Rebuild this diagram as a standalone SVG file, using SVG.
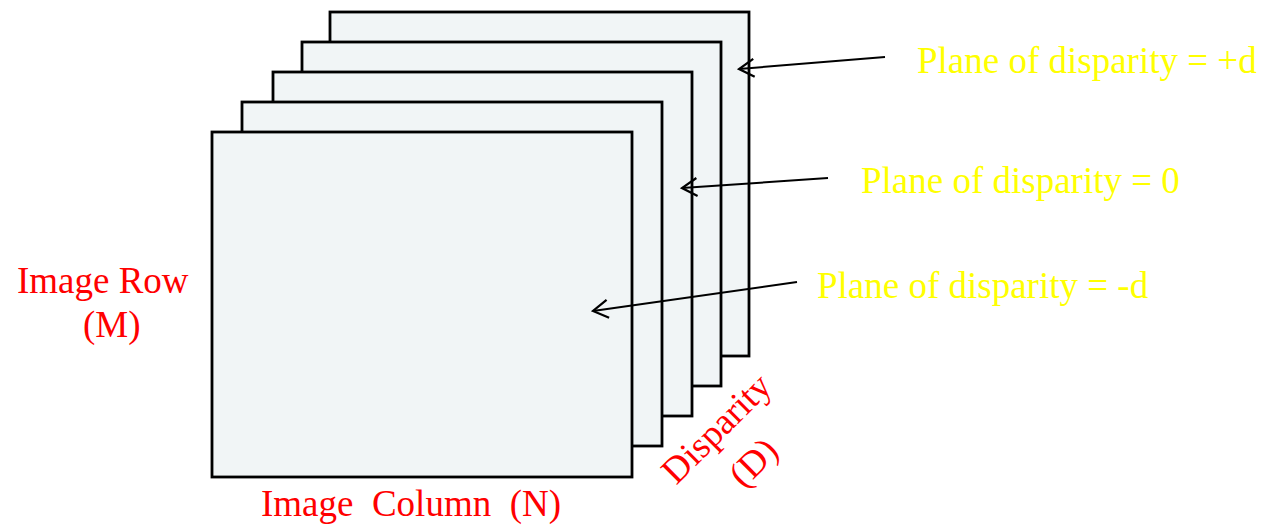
<svg xmlns="http://www.w3.org/2000/svg" width="1267" height="525" viewBox="0 0 1267 525">
  <style>
    .plane { fill: #f1f5f6; stroke: #000; stroke-width: 2.8; }
    .arrow { fill: none; stroke: #000; stroke-width: 2; marker-end: url(#chev); }
    .lbl-y { font-family: "Liberation Serif", "Times New Roman", serif; font-size: 37px; fill: #ffff00; }
    .lbl-r { font-family: "Liberation Serif", "Times New Roman", serif; font-size: 37px; fill: #ff0000; white-space: pre; }
  </style>
  <defs>
    <marker id="chev" markerUnits="userSpaceOnUse" markerWidth="40" markerHeight="40" refX="0" refY="0" viewBox="-20 -20 40 40" orient="auto" overflow="visible">
      <path d="M-15,-9 L0,0 L-15,9" fill="none" stroke="#000" stroke-width="2.2"/>
    </marker>
  </defs>

  <!-- stack of disparity planes, back to front -->
  <g id="plane-5"><rect class="plane" x="330" y="12" width="419" height="344"/></g>
  <g id="plane-4"><rect class="plane" x="302" y="42" width="419" height="344"/></g>
  <g id="plane-3"><rect class="plane" x="273" y="72" width="419" height="344"/></g>
  <g id="plane-2"><rect class="plane" x="242" y="102" width="420" height="344"/></g>
  <g id="plane-1"><rect class="plane" x="212" y="132" width="420" height="345"/></g>

  <!-- callout arrows -->
  <g id="connectors">
    <line class="arrow" x1="885" y1="57" x2="739" y2="69"/>
    <line class="arrow" x1="828" y1="178" x2="682" y2="188"/>
    <line class="arrow" x1="797" y1="282" x2="593" y2="311"/>
  </g>

  <!-- plane labels -->
  <g id="label-plus-d"><text class="lbl-y" x="917" y="73">Plane of disparity = +d</text></g>
  <g id="label-zero"><text class="lbl-y" x="861" y="193">Plane of disparity = 0</text></g>
  <g id="label-minus-d"><text class="lbl-y" x="817" y="298">Plane of disparity = -d</text></g>

  <!-- axis labels -->
  <g id="axis-row">
    <text class="lbl-r" x="17" y="293">Image Row</text>
    <text class="lbl-r" x="83" y="337">(M)</text>
  </g>
  <g id="axis-col">
    <text class="lbl-r" x="261" y="516">Image  Column  (N)</text>
  </g>
  <g id="axis-disp">
    <text class="lbl-r" text-anchor="middle" transform="translate(725,437) rotate(-45)">Disparity</text>
    <text class="lbl-r" text-anchor="middle" transform="translate(762,471) rotate(-45)">(D)</text>
  </g>
</svg>
